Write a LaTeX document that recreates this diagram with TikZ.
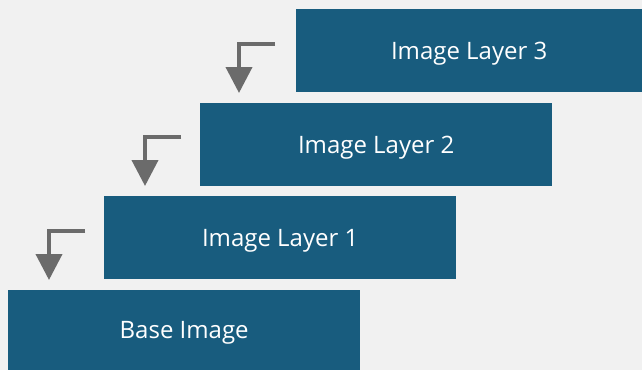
\documentclass[tikz,border=0pt]{standalone}
\usepackage{fontspec}
\setmainfont{Open Sans}
\usetikzlibrary{arrows.meta}
\definecolor{bg}{HTML}{F1F1F1}
\definecolor{boxc}{HTML}{185C7E}
\definecolor{arrc}{HTML}{6B6B6B}
\begin{document}
\begin{tikzpicture}[x=1pt,y=-1pt,
  layerbox/.style={fill=boxc,draw=none,text=white,font=\fontsize{24}{28}\selectfont,text depth=0pt,minimum width=352pt,minimum height=83pt,inner sep=0pt,anchor=north west},
  elbow/.style={draw=arrc,line width=4pt,line join=miter,-{Triangle[width=26pt,length=26pt]}}]
\fill[bg] (0,0) rectangle (642,370);
\useasboundingbox (0,0) rectangle (642,370);
\node[layerbox,minimum width=346pt] (l3) at (296,9) {Image Layer 3};
\node[layerbox] (l2) at (200,103) {Image Layer 2};
\node[layerbox] (l1) at (104,196) {Image Layer 1};
\node[layerbox,minimum height=80pt] (b0) at (8,290) {Base Image};
\coordinate (s3) at (275,44);
\coordinate (e3) at (239,93);
\coordinate (s2) at (181,137);
\coordinate (e2) at (145,186);
\coordinate (s1) at (85,231);
\coordinate (e1) at (49,280);
\draw[elbow] (s3) -| (e3);
\draw[elbow] (s2) -| (e2);
\draw[elbow] (s1) -| (e1);
\end{tikzpicture}
\end{document}
